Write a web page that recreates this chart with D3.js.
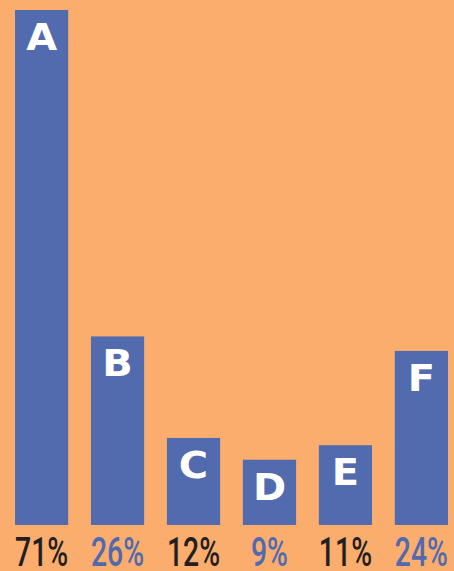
<!DOCTYPE html>
<html>
<head>
<meta charset="utf-8">
<script src="https://cdn.jsdelivr.net/npm/d3@7"></script>
<style>
  html, body { margin: 0; padding: 0; background: #FBAD6D; }
  svg { display: block; }
</style>
</head>
<body>
<div id="chart"></div>
<script>
const categories = ["A", "B", "C", "D", "E", "F"];
const values = [71, 26, 12, 9, 11, 24];
const valueLabels = ["71%", "26%", "12%", "9%", "11%", "24%"];
const labelColors = ["#231F20", "#5169AF", "#231F20", "#5169AF", "#231F20", "#5169AF"];

const W = 454, H = 571;
const svg = d3.select("#chart").append("svg").attr("width", W).attr("height", H);
svg.append("rect").attr("width", W).attr("height", H).attr("fill", "#FBAD6D");

const x = d3.scaleBand().domain(categories).range([15, 448]).paddingInner(0.3).paddingOuter(0);
const y = d3.scaleLinear().domain([0, 71]).range([525, 10]);

const data = categories.map((c, i) => ({ c, v: values[i], label: valueLabels[i], color: labelColors[i] }));

svg.selectAll("rect.bar").data(data).enter().append("rect")
  .attr("class", "bar")
  .attr("x", d => x(d.c))
  .attr("y", d => y(d.v))
  .attr("width", x.bandwidth())
  .attr("height", d => y(0) - y(d.v))
  .attr("fill", "#516BAE");

svg.selectAll("text.cat").data(data).enter().append("text")
  .attr("class", "cat")
  .attr("transform", d => `translate(${x(d.c) + x.bandwidth() / 2},${y(d.v) + 40}) scale(1.08,1)`)
  .attr("text-anchor", "middle")
  .attr("font-family", "DejaVu Sans, sans-serif")
  .attr("font-weight", "bold")
  .attr("font-size", 37)
  .attr("fill", "#FFFFFF")
  .text(d => d.c);

svg.selectAll("text.val").data(data).enter().append("text")
  .attr("class", "val")
  .attr("transform", d => `translate(${x(d.c) + x.bandwidth() / 2},566) scale(0.71,1)`)
  .attr("text-anchor", "middle")
  .attr("font-family", "Roboto, Liberation Sans, sans-serif")
  .attr("font-weight", 500)
  .attr("font-size", 40)
  .attr("fill", d => d.color)
  .text(d => d.label);
</script>
</body>
</html>
